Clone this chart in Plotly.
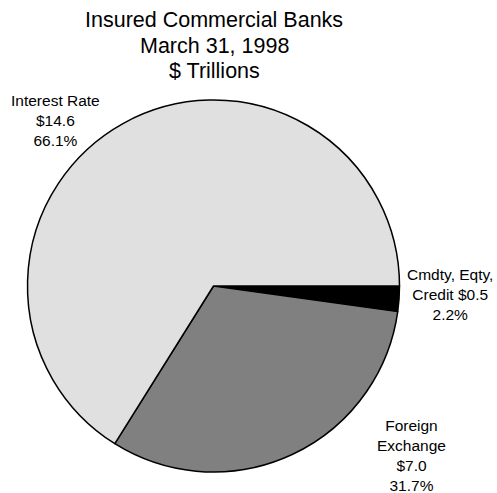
import plotly.graph_objects as go

# Derivative notional amounts by contract type
categories = ["Interest Rate", "Foreign Exchange", "Cmdty, Eqty, Credit"]
amounts = [14.6, 7.0, 0.5]          # $ trillions
shares = [66.1, 31.7, 2.2]          # percent of total
colors = ["#e0e0e0", "#808080", "#000000"]
title_lines = ["Insured Commercial Banks", "March 31, 1998", "$ Trillions"]

W, H = 497, 493
cx, cy, r = 213.5, 286.0, 186.0


def px(x):
    return x / W


def py(y):
    return 1 - y / H


# slices run clockwise from 3 o'clock: smallest first, so reverse the order
fig = go.Figure(
    go.Pie(
        labels=categories[::-1],
        values=shares[::-1],
        sort=False,
        direction="clockwise",
        rotation=90,
        marker=dict(colors=colors[::-1], line=dict(color="#000000", width=1.5)),
        textinfo="none",
        hoverinfo="label+value",
        showlegend=False,
        domain=dict(x=[px(cx - r), px(cx + r)], y=[py(cy + r), py(cy - r)]),
    )
)

font = dict(family="Liberation Sans, Arial, sans-serif", color="#000000")

annotations = []
for i, line in enumerate(title_lines):
    annotations.append(
        dict(
            text=line, x=px(214), y=py(20 + 25.5 * i),
            xanchor="center", yanchor="middle",
            font=dict(size=21.5, **font), showarrow=False,
        )
    )

# label anchor points (centre of the text block)
label_pos = [(55, 121), (411, 455), (450, 294)]
labels = [
    "Interest Rate<br>$%.1f<br>%.1f%%" % (amounts[0], shares[0]),
    "Foreign<br>Exchange<br>$%.1f<br>%.1f%%" % (amounts[1], shares[1]),
    "Cmdty, Eqty,<br>Credit $%.1f<br>%.1f%%" % (amounts[2], shares[2]),
]
for (lx, ly), txt in zip(label_pos, labels):
    annotations.append(
        dict(
            text=txt, x=px(lx), y=py(ly), xanchor="center", yanchor="middle",
            font=dict(size=15.5, **font), showarrow=False,
        )
    )

fig.update_layout(
    width=W,
    height=H,
    margin=dict(l=0, r=0, t=0, b=0),
    paper_bgcolor="#ffffff",
    plot_bgcolor="#ffffff",
    annotations=annotations,
)

fig.write_html("out.html")
